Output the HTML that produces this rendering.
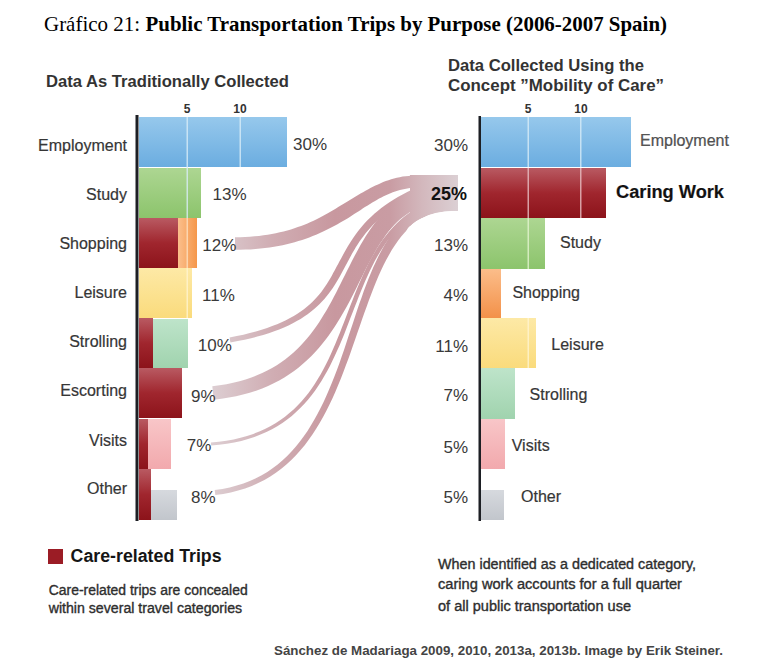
<!DOCTYPE html>
<html><head><meta charset="utf-8">
<style>
html,body{margin:0;padding:0;background:#fff;width:773px;height:667px;overflow:hidden}
svg{position:absolute;left:0;top:0}
.t{font-family:"Liberation Serif",serif;font-size:21.5px;fill:#000}
.s{font-family:"Liberation Sans",sans-serif}
.hd{font-size:16.8px;font-weight:bold;fill:#333}
.lb{font-size:16px;fill:#363636;stroke:#363636;stroke-width:0.2px}
.pc{font-size:17px;fill:#3a3a3a}
.ax{font-size:12px;font-weight:bold;fill:#333}
</style></head><body>
<svg width="773" height="667" viewBox="0 0 773 667">
<defs>
 <linearGradient id="gBlue" x1="0" y1="0" x2="0" y2="1"><stop offset="0" stop-color="#96c8ec"/><stop offset="1" stop-color="#6badE0"/></linearGradient>
 <linearGradient id="gGreen" x1="0" y1="0" x2="0" y2="1"><stop offset="0" stop-color="#add692"/><stop offset="1" stop-color="#8cc46c"/></linearGradient>
 <linearGradient id="gRed" x1="0" y1="0" x2="0" y2="1"><stop offset="0" stop-color="#b95a62"/><stop offset="0.5" stop-color="#a0262e"/><stop offset="1" stop-color="#8c131a"/></linearGradient>
 <linearGradient id="gOrange" x1="0" y1="0" x2="1" y2="0"><stop offset="0" stop-color="#fbbf8c"/><stop offset="1" stop-color="#f5974a"/></linearGradient>
 <linearGradient id="gOrangeV" x1="0" y1="0" x2="0" y2="1"><stop offset="0" stop-color="#fbbd8a"/><stop offset="1" stop-color="#f39149"/></linearGradient>
 <linearGradient id="gYellow" x1="0" y1="0" x2="0" y2="1"><stop offset="0" stop-color="#fde9a6"/><stop offset="1" stop-color="#fadb7c"/></linearGradient>
 <linearGradient id="gMint" x1="0" y1="0" x2="0" y2="1"><stop offset="0" stop-color="#bee4ca"/><stop offset="1" stop-color="#a0d3ae"/></linearGradient>
 <linearGradient id="gPink" x1="0" y1="0" x2="0" y2="1"><stop offset="0" stop-color="#f8c6c8"/><stop offset="1" stop-color="#f2a9ad"/></linearGradient>
 <linearGradient id="gGray" x1="0" y1="0" x2="0" y2="1"><stop offset="0" stop-color="#d6d9de"/><stop offset="1" stop-color="#c2c6cc"/></linearGradient>
 <linearGradient id="gRedH" x1="0" y1="0" x2="1" y2="0"><stop offset="0" stop-color="#8e161d"/><stop offset="0.4" stop-color="#b8626a"/><stop offset="1" stop-color="#96222a"/></linearGradient>
<linearGradient id="gFlow" gradientUnits="userSpaceOnUse" x1="210" y1="0" x2="460" y2="0"><stop offset="0" stop-color="#ddcfd3"/><stop offset="0.25" stop-color="#d0adb3"/><stop offset="0.5" stop-color="#c8989f"/><stop offset="0.72" stop-color="#c99ca3"/><stop offset="0.85" stop-color="#d3b8bd"/><stop offset="1" stop-color="#dcd1d5"/></linearGradient>
<clipPath id="cFlow"><path d="M0,0 L773,0 L773,211 L458,211 C440,211 420,215 408,228 L398,246 L396,667 L0,667 Z"/></clipPath>
</defs>

<!-- title -->
<text class="t" x="44" y="30.5" textLength="96" lengthAdjust="spacingAndGlyphs">Gráfico 21:</text>
<text class="t" x="145.5" y="30.5" font-weight="bold" textLength="521.5" lengthAdjust="spacingAndGlyphs">Public Transportation Trips by Purpose (2006-2007 Spain)</text>

<!-- headers -->
<text class="s hd" x="46" y="87.3" textLength="243" lengthAdjust="spacingAndGlyphs">Data As Traditionally Collected</text>
<text class="s hd" x="448" y="71" textLength="196" lengthAdjust="spacingAndGlyphs">Data Collected Using the</text>
<text class="s hd" x="448" y="91.4" textLength="216" lengthAdjust="spacingAndGlyphs">Concept ”Mobility of Care”</text>

<!-- LEFT CHART -->
<g id="left">
 <rect x="139" y="117" width="148" height="50" fill="url(#gBlue)"/>
 <rect x="139" y="168" width="62" height="50" fill="url(#gGreen)"/>
 <rect x="139" y="218" width="39" height="50" fill="url(#gRed)"/>
 <rect x="178" y="218" width="19" height="50" fill="url(#gOrange)"/>
 <rect x="139" y="268" width="53" height="50" fill="url(#gYellow)"/>
 <rect x="139" y="318" width="14" height="50" fill="url(#gRed)"/>
 <rect x="153" y="319" width="35" height="49" fill="url(#gMint)"/>
 <rect x="139" y="368" width="43" height="50" fill="url(#gRed)"/>
 <rect x="139" y="419" width="9" height="50" fill="url(#gRed)"/>
 <rect x="148" y="419" width="23" height="50" fill="url(#gPink)"/>
 <rect x="139" y="469" width="12" height="51" fill="url(#gRed)"/>
 <rect x="151" y="490" width="26" height="30" fill="url(#gGray)"/>
 <!-- gridlines -->
 <rect x="186.5" y="117" width="1.5" height="101" fill="#d8ecf8" opacity="0.8"/>
 <rect x="186.5" y="218" width="1.5" height="50" fill="#fde0c0" opacity="0.8"/>
 <rect x="186.5" y="268" width="1.5" height="50" fill="#fff4d0" opacity="0.8"/>
 <rect x="239.5" y="117" width="1.5" height="50" fill="#d8ecf8" opacity="0.8"/>
 <rect x="135.5" y="115" width="3" height="406" fill="#1d1f24"/>
 <text class="s ax" x="187" y="113" text-anchor="middle">5</text>
 <text class="s ax" x="240" y="113" text-anchor="middle">10</text>
</g>

<!-- RIGHT CHART -->
<g id="right">
 <rect x="481" y="117" width="150" height="50" fill="url(#gBlue)"/>
 <rect x="481" y="168" width="125" height="50" fill="url(#gRed)"/>
 <rect x="481" y="218" width="64" height="51" fill="url(#gGreen)"/>
 <rect x="481" y="269" width="20" height="49" fill="url(#gOrangeV)"/>
 <rect x="481" y="318" width="55" height="50" fill="url(#gYellow)"/>
 <rect x="481" y="368" width="34" height="51" fill="url(#gMint)"/>
 <rect x="481" y="419" width="24" height="50" fill="url(#gPink)"/>
 <rect x="481" y="490" width="23" height="30" fill="url(#gGray)"/>
 <rect x="527.5" y="117" width="1.5" height="50" fill="#d8ecf8" opacity="0.8"/>
 <rect x="527.5" y="168" width="1.5" height="50" fill="#e8c0c4" opacity="0.8"/>
 <rect x="527.5" y="218" width="1.5" height="51" fill="#e4f4d0" opacity="0.8"/>
 <rect x="527.5" y="318" width="1.5" height="50" fill="#fff4d0" opacity="0.8"/>
 <rect x="580" y="117" width="1.5" height="50" fill="#d8ecf8" opacity="0.8"/>
 <rect x="580" y="168" width="1.5" height="50" fill="#e8c0c4" opacity="0.8"/>
 <rect x="478.5" y="116" width="2.5" height="405" fill="#1d1f24"/>
 <text class="s ax" x="528" y="113" text-anchor="middle">5</text>
 <text class="s ax" x="581" y="113" text-anchor="middle">10</text>
</g>

<!-- left labels -->
<g class="s lb" text-anchor="end">
 <text x="127" y="151.3">Employment</text>
 <text x="127" y="200">Study</text>
 <text x="127" y="249">Shopping</text>
 <text x="127" y="297.7">Leisure</text>
 <text x="127" y="346.6">Strolling</text>
 <text x="127" y="396">Escorting</text>
 <text x="127" y="445.5">Visits</text>
 <text x="127" y="494.4">Other</text>
</g>

<!-- flows -->
<g id="flows" fill="url(#gFlow)" clip-path="url(#cFlow)">
<path d="M410,175 L458,175 L458,211 C440,211 424,213 410,228 Z"/>
<path d="M235.0,249.8 L240.3,249.7 L245.5,249.6 L250.6,249.4 L255.5,249.0 L260.4,248.6 L265.0,248.1 L269.6,247.5 L274.1,246.8 L278.4,246.0 L282.6,245.2 L286.7,244.3 L290.7,243.3 L294.6,242.2 L298.4,241.1 L302.2,239.9 L305.8,238.7 L309.3,237.4 L312.7,236.1 L316.1,234.7 L319.4,233.3 L322.6,231.8 L325.7,230.3 L328.7,228.8 L331.7,227.3 L334.6,225.8 L337.5,224.2 L340.3,222.6 L343.0,221.0 L345.7,219.5 L348.3,217.9 L350.9,216.2 L353.4,214.6 L355.8,213.0 L358.3,211.4 L360.7,209.9 L363.0,208.3 L365.4,206.8 L367.7,205.4 L370.0,203.9 L372.3,202.5 L374.6,201.2 L376.8,199.9 L379.1,198.6 L381.4,197.4 L383.6,196.3 L385.9,195.2 L388.2,194.2 L390.5,193.2 L392.8,192.3 L395.1,191.5 L397.5,190.7 L399.9,190.0 L402.3,189.4 L404.8,188.9 L407.3,188.4 L409.9,188.1 L412.5,187.8 L415.2,187.6 L418.0,187.5 L418.0,175.5 L414.8,175.5 L411.7,175.6 L408.6,175.9 L405.6,176.2 L402.6,176.6 L399.7,177.2 L396.8,177.8 L394.0,178.5 L391.2,179.3 L388.5,180.2 L385.8,181.1 L383.2,182.1 L380.6,183.2 L378.0,184.4 L375.4,185.5 L372.9,186.8 L370.4,188.1 L367.9,189.4 L365.5,190.8 L363.0,192.2 L360.5,193.6 L358.1,195.0 L355.6,196.5 L353.2,198.0 L350.7,199.5 L348.3,201.0 L345.8,202.5 L343.3,204.0 L340.7,205.6 L338.2,207.1 L335.6,208.7 L333.0,210.2 L330.4,211.8 L327.8,213.3 L325.0,214.8 L322.3,216.3 L319.5,217.8 L316.6,219.2 L313.6,220.7 L310.6,222.0 L307.5,223.4 L304.4,224.7 L301.1,225.9 L297.8,227.1 L294.4,228.3 L290.9,229.4 L287.3,230.4 L283.6,231.4 L279.8,232.3 L275.8,233.2 L271.8,234.0 L267.7,234.7 L263.4,235.3 L259.0,235.9 L254.5,236.3 L249.8,236.7 L245.0,237.0 L240.1,237.2 L235.0,237.2Z"/>
<path d="M230.4,342.5 L237.7,341.1 L244.6,339.7 L251.1,338.2 L257.3,336.6 L263.2,334.9 L268.8,333.2 L274.2,331.3 L279.2,329.4 L284.0,327.5 L288.5,325.4 L292.8,323.3 L296.8,321.1 L300.6,318.9 L304.2,316.6 L307.6,314.2 L310.8,311.8 L313.9,309.3 L316.7,306.8 L319.4,304.2 L322.0,301.6 L324.4,298.9 L326.6,296.2 L328.8,293.4 L330.8,290.7 L332.8,287.9 L334.7,285.0 L336.4,282.2 L338.2,279.3 L339.8,276.5 L341.4,273.6 L343.0,270.6 L344.5,267.7 L346.1,264.8 L347.6,261.9 L349.2,259.0 L350.8,256.0 L352.4,253.1 L354.1,250.2 L355.8,247.3 L357.6,244.5 L359.5,241.6 L361.5,238.7 L363.6,235.9 L365.8,233.0 L368.2,230.2 L370.6,227.4 L373.3,224.6 L376.1,221.9 L379.1,219.1 L382.3,216.4 L385.6,213.7 L389.2,211.0 L393.0,208.4 L397.1,205.8 L401.4,203.2 L406.0,200.6 L410.8,198.1 L416.0,195.6 L421.4,193.2 L418.6,186.8 L413.0,189.3 L407.7,191.8 L402.6,194.4 L397.9,197.1 L393.4,199.8 L389.1,202.5 L385.1,205.2 L381.3,208.1 L377.7,210.9 L374.3,213.8 L371.2,216.7 L368.2,219.6 L365.3,222.5 L362.7,225.5 L360.2,228.5 L357.8,231.5 L355.6,234.5 L353.5,237.5 L351.5,240.5 L349.6,243.5 L347.7,246.5 L346.0,249.5 L344.3,252.5 L342.7,255.4 L341.1,258.4 L339.5,261.3 L338.0,264.2 L336.4,267.1 L334.9,270.0 L333.3,272.8 L331.8,275.7 L330.2,278.5 L328.5,281.2 L326.8,283.9 L325.1,286.6 L323.2,289.3 L321.3,291.9 L319.2,294.5 L317.0,297.0 L314.7,299.6 L312.3,302.0 L309.6,304.5 L306.9,306.8 L303.9,309.2 L300.7,311.5 L297.4,313.7 L293.8,315.9 L290.0,318.1 L285.9,320.2 L281.6,322.2 L277.1,324.2 L272.2,326.1 L267.1,328.0 L261.6,329.7 L255.9,331.4 L249.8,333.1 L243.4,334.7 L236.7,336.1 L229.6,337.5Z"/>
<path d="M213.7,399.7 L221.5,398.8 L228.9,397.6 L236.1,396.2 L243.0,394.6 L249.7,392.8 L256.1,390.7 L262.2,388.4 L268.1,386.0 L273.7,383.3 L279.2,380.4 L284.4,377.4 L289.3,374.2 L294.1,370.9 L298.7,367.4 L303.0,363.8 L307.2,360.1 L311.2,356.2 L315.0,352.2 L318.6,348.2 L322.1,344.0 L325.5,339.8 L328.7,335.5 L331.8,331.1 L334.7,326.7 L337.5,322.3 L340.3,317.8 L342.9,313.3 L345.5,308.8 L348.0,304.3 L350.4,299.8 L352.7,295.3 L355.0,290.7 L357.2,286.3 L359.4,281.8 L361.6,277.4 L363.8,273.1 L365.9,268.8 L368.1,264.6 L370.3,260.5 L372.5,256.4 L374.7,252.4 L376.9,248.6 L379.2,244.8 L381.6,241.2 L384.0,237.7 L386.4,234.3 L388.9,231.1 L391.5,228.0 L394.2,225.0 L396.9,222.3 L399.8,219.6 L402.7,217.2 L405.8,214.9 L409.0,212.7 L412.3,210.8 L415.8,209.0 L419.4,207.4 L423.2,205.9 L427.2,204.7 L422.8,189.3 L418.0,190.8 L413.3,192.6 L408.8,194.6 L404.5,196.8 L400.4,199.2 L396.5,201.8 L392.8,204.6 L389.2,207.6 L385.8,210.8 L382.6,214.1 L379.5,217.5 L376.5,221.0 L373.6,224.7 L370.9,228.5 L368.2,232.4 L365.7,236.3 L363.2,240.4 L360.8,244.5 L358.5,248.7 L356.2,252.9 L353.9,257.2 L351.7,261.5 L349.5,265.9 L347.3,270.3 L345.1,274.7 L342.9,279.1 L340.7,283.6 L338.4,288.0 L336.2,292.4 L333.9,296.8 L331.6,301.2 L329.2,305.5 L326.7,309.9 L324.2,314.1 L321.6,318.3 L319.0,322.5 L316.2,326.6 L313.3,330.6 L310.3,334.5 L307.2,338.3 L303.9,342.1 L300.5,345.7 L297.0,349.3 L293.3,352.7 L289.4,356.0 L285.4,359.2 L281.2,362.2 L276.8,365.2 L272.1,367.9 L267.3,370.6 L262.2,373.0 L256.9,375.3 L251.4,377.5 L245.6,379.5 L239.5,381.2 L233.1,382.8 L226.5,384.2 L219.5,385.3 L212.3,386.3Z"/>
<path d="M211.1,445.5 L219.1,444.8 L226.8,443.8 L234.2,442.5 L241.3,440.9 L248.0,439.1 L254.4,437.0 L260.5,434.6 L266.4,432.1 L272.0,429.3 L277.3,426.2 L282.4,423.0 L287.2,419.6 L291.8,415.9 L296.1,412.1 L300.3,408.1 L304.2,404.0 L308.0,399.7 L311.6,395.3 L315.0,390.7 L318.2,386.0 L321.3,381.2 L324.2,376.3 L327.1,371.3 L329.8,366.2 L332.3,361.0 L334.8,355.8 L337.2,350.5 L339.6,345.2 L341.9,339.8 L344.1,334.4 L346.2,329.0 L348.3,323.5 L350.4,318.1 L352.5,312.7 L354.6,307.2 L356.7,301.9 L358.8,296.5 L360.9,291.2 L363.1,286.0 L365.3,280.8 L367.6,275.7 L370.0,270.6 L372.4,265.7 L374.9,260.8 L377.6,256.1 L380.3,251.5 L383.2,247.0 L386.2,242.6 L389.3,238.4 L392.6,234.4 L396.1,230.5 L399.7,226.8 L403.5,223.2 L407.5,219.8 L411.7,216.7 L416.2,213.7 L420.8,210.9 L425.7,208.4 L430.9,206.1 L429.1,201.9 L423.8,204.3 L418.6,207.0 L413.8,209.9 L409.1,213.0 L404.7,216.3 L400.5,219.8 L396.6,223.5 L392.8,227.4 L389.2,231.5 L385.8,235.7 L382.5,240.0 L379.4,244.5 L376.5,249.1 L373.7,253.9 L371.0,258.7 L368.4,263.6 L365.9,268.7 L363.5,273.8 L361.2,279.0 L358.9,284.2 L356.7,289.5 L354.6,294.8 L352.5,300.2 L350.4,305.6 L348.3,311.0 L346.2,316.5 L344.1,321.9 L342.0,327.3 L339.9,332.7 L337.7,338.1 L335.5,343.4 L333.2,348.7 L330.9,354.0 L328.5,359.2 L326.0,364.3 L323.4,369.3 L320.7,374.2 L317.8,379.1 L314.9,383.8 L311.7,388.4 L308.5,392.9 L305.0,397.2 L301.4,401.4 L297.6,405.5 L293.6,409.4 L289.4,413.1 L285.0,416.7 L280.4,420.1 L275.5,423.2 L270.3,426.2 L264.9,429.0 L259.3,431.5 L253.3,433.9 L247.0,436.0 L240.5,437.8 L233.6,439.4 L226.4,440.7 L218.8,441.7 L210.9,442.5Z"/>
<path d="M215.3,495.0 L223.2,493.9 L230.8,492.5 L238.1,490.6 L245.1,488.5 L251.8,486.0 L258.2,483.1 L264.4,480.0 L270.3,476.5 L275.9,472.8 L281.3,468.8 L286.4,464.5 L291.3,460.0 L296.0,455.3 L300.4,450.3 L304.7,445.2 L308.7,439.8 L312.6,434.3 L316.3,428.6 L319.8,422.8 L323.2,416.8 L326.4,410.7 L329.5,404.5 L332.5,398.2 L335.4,391.8 L338.1,385.3 L340.8,378.7 L343.3,372.2 L345.8,365.5 L348.3,358.9 L350.7,352.2 L353.0,345.6 L355.3,338.9 L357.6,332.3 L359.9,325.7 L362.1,319.2 L364.4,312.8 L366.7,306.4 L369.0,300.1 L371.3,293.9 L373.6,287.9 L376.0,281.9 L378.5,276.1 L381.0,270.5 L383.6,265.0 L386.3,259.8 L389.1,254.7 L391.9,249.8 L394.9,245.2 L398.0,240.7 L401.2,236.6 L404.5,232.7 L408.0,229.0 L411.5,225.7 L415.3,222.6 L419.2,219.8 L423.2,217.4 L427.4,215.2 L431.8,213.3 L436.4,211.8 L433.6,202.2 L428.2,204.1 L423.2,206.4 L418.4,209.0 L413.8,211.9 L409.4,215.1 L405.3,218.7 L401.3,222.5 L397.6,226.6 L394.1,230.9 L390.7,235.5 L387.5,240.3 L384.4,245.3 L381.5,250.5 L378.7,255.8 L376.0,261.4 L373.4,267.1 L370.9,272.9 L368.5,278.8 L366.1,284.9 L363.8,291.1 L361.6,297.4 L359.3,303.8 L357.1,310.3 L355.0,316.8 L352.8,323.4 L350.6,330.0 L348.4,336.6 L346.2,343.3 L344.0,349.9 L341.7,356.5 L339.4,363.2 L337.0,369.7 L334.5,376.3 L331.9,382.7 L329.3,389.1 L326.5,395.5 L323.7,401.7 L320.7,407.8 L317.6,413.8 L314.4,419.6 L311.0,425.3 L307.5,430.9 L303.8,436.3 L299.9,441.5 L295.9,446.5 L291.7,451.3 L287.2,455.9 L282.6,460.2 L277.7,464.4 L272.6,468.2 L267.3,471.9 L261.7,475.2 L255.9,478.3 L249.8,481.0 L243.4,483.5 L236.7,485.6 L229.7,487.4 L222.4,488.9 L214.7,490.0Z"/>
</g>

<!-- left percents -->
<g class="s pc">
 <text x="293" y="150.4">30%</text>
 <text x="212.6" y="200">13%</text>
 <text x="202.3" y="250.6">12%</text>
 <text x="202" y="301">11%</text>
 <text x="197.8" y="351">10%</text>
 <text x="191" y="401.5">9%</text>
 <text x="186.8" y="451.4">7%</text>
 <text x="191" y="502.9">8%</text>
</g>
<!-- right percents -->
<g class="s pc" text-anchor="end">
 <text x="468" y="150.6">30%</text>
 <text x="467" y="200" font-weight="bold" fill="#111" font-size="17.5" textLength="36" lengthAdjust="spacingAndGlyphs">25%</text>
 <text x="468" y="251">13%</text>
 <text x="468" y="301">4%</text>
 <text x="468" y="352">11%</text>
 <text x="468" y="401.3">7%</text>
 <text x="468" y="452.5">5%</text>
 <text x="468" y="502.8">5%</text>
</g>
<!-- right labels -->
<g class="s lb">
 <text x="640" y="146.3" fill="#555">Employment</text>
 <text x="616" y="198.2" font-weight="bold" fill="#111" font-size="17.5" textLength="108" lengthAdjust="spacingAndGlyphs">Caring Work</text>
 <text x="560" y="248">Study</text>
 <text x="512.4" y="297.6">Shopping</text>
 <text x="551.3" y="349.5">Leisure</text>
 <text x="529.6" y="400">Strolling</text>
 <text x="511.7" y="451">Visits</text>
 <text x="521" y="502.3">Other</text>
</g>

<!-- legend -->
<rect x="48" y="549" width="15" height="15" fill="#9b1c25"/>
<text class="s" x="70.6" y="562" font-size="18" font-weight="bold" fill="#151515" textLength="151" lengthAdjust="spacingAndGlyphs">Care-related Trips</text>
<text class="s" x="48.7" y="594.8" font-size="13.8" fill="#2e2e2e" stroke="#2e2e2e" stroke-width="0.35" textLength="199" lengthAdjust="spacingAndGlyphs">Care-related trips are concealed</text>
<text class="s" x="48.7" y="613.3" font-size="13.8" fill="#2e2e2e" stroke="#2e2e2e" stroke-width="0.35" textLength="193.5" lengthAdjust="spacingAndGlyphs">within several travel categories</text>

<text class="s" x="438" y="568.5" font-size="13.8" fill="#2e2e2e" stroke="#2e2e2e" stroke-width="0.35" textLength="258" lengthAdjust="spacingAndGlyphs">When identified as a dedicated category,</text>
<text class="s" x="438" y="589" font-size="13.8" fill="#2e2e2e" stroke="#2e2e2e" stroke-width="0.35" textLength="244" lengthAdjust="spacingAndGlyphs">caring work accounts for a full quarter</text>
<text class="s" x="438" y="610.5" font-size="13.8" fill="#2e2e2e" stroke="#2e2e2e" stroke-width="0.35" textLength="193" lengthAdjust="spacingAndGlyphs">of all public transportation use</text>

<text class="s" x="274" y="655.1" font-size="13.5" font-weight="bold" fill="#444" textLength="449" lengthAdjust="spacingAndGlyphs">Sánchez de Madariaga 2009, 2010, 2013a, 2013b. Image by Erik Steiner.</text>
</svg>
</body></html>
